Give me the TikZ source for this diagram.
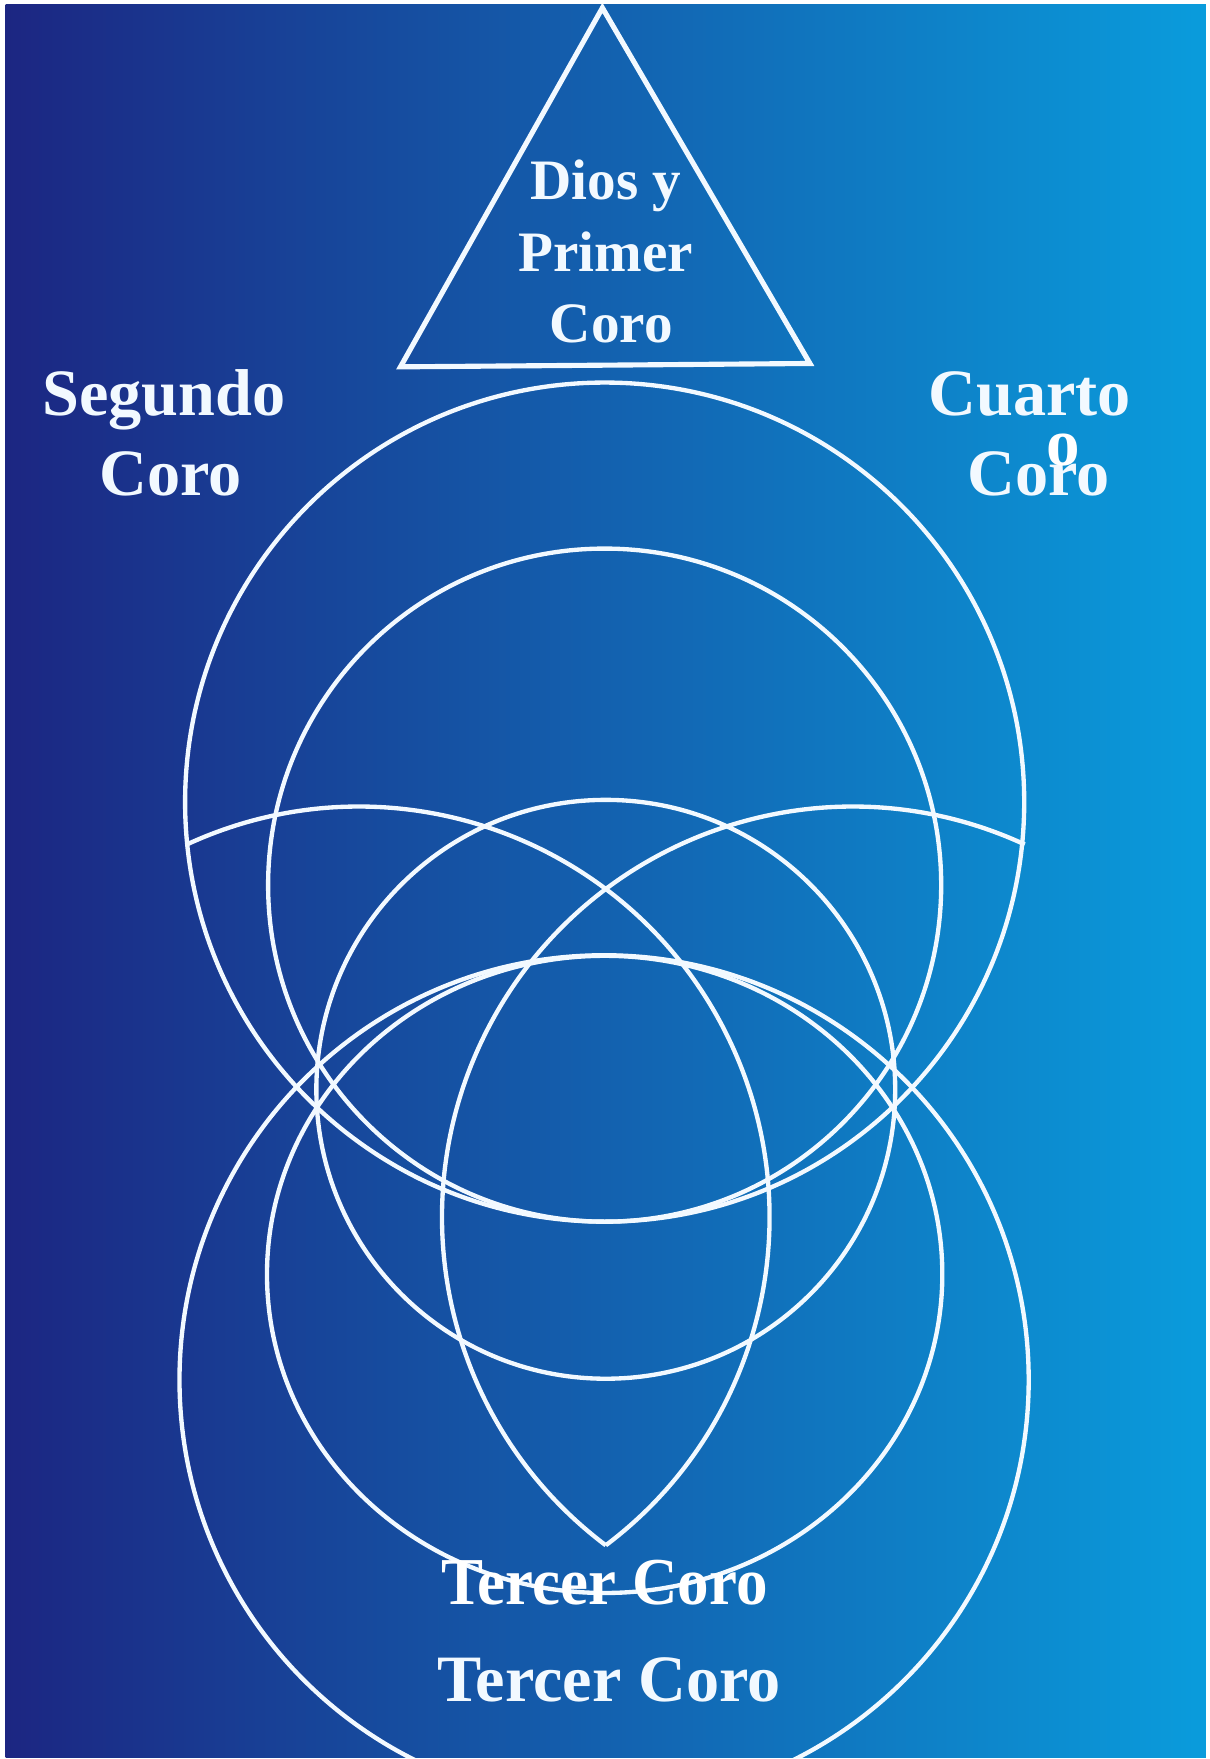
\documentclass[tikz,border=0pt]{standalone}
\usepackage{fontspec}
\setmainfont{Liberation Serif}
\definecolor{coroNavy}{HTML}{1C2682}
\definecolor{coroBlue}{HTML}{0063AF}
\definecolor{coroSky}{HTML}{0A9CDC}
\definecolor{coroInk}{HTML}{F2F9FF}
\tikzset{
    ring/.style={draw=coroInk, line width=1.1pt},
    coro/.style={text=coroInk, inner sep=0pt, anchor=base, font=\bfseries\fontsize{16.8}{20}\selectfont},
    coroS/.style={coro, font=\bfseries\fontsize{14.5}{18}\selectfont},
    stamp/.style={text=white, inner sep=0pt, anchor=base, font=\bfseries\fontsize{17}{20}\selectfont}
}

\begin{document}
\begin{tikzpicture}[x=0.1mm, y=-0.1mm]
% page and blue ground
\fill[white] (0,0) rectangle (1078,1568);
\useasboundingbox (0,0) rectangle (1078,1568);
\shade[left color=coroNavy, middle color=coroBlue, right color=coroSky] (5,4) rectangle (1075,1567);
\begin{scope}
\clip (5,4) rectangle (1075,1567);
% rings
\draw[ring] (539,715) circle[radius=374];
\draw[ring] (539,789) circle[radius=300];
\draw[ring] (540,971) circle[radius=258];
\draw[ring] (538.5,1230) circle[radius=378.5];
\draw[ring] (539,1136) ellipse[x radius=301, y radius=284];
% the two arcs of the lens
\draw[ring] (320,1085) ++(-114.8:366) arc[start angle=-114.8, end angle=53.05, radius=366];
\draw[ring] (760,1085) ++(-65.2:366) arc[start angle=-65.2, end angle=-233.05, radius=366];
% triangle
\draw[ring, line width=1.3pt] (537,7) -- (722,324) -- (357,327) -- cycle;
\end{scope}
\node[coroS] (dios) at (540,178) {Dios y};
\node[coroS] (primer) at (540,242) {Primer};
\node[coroS] (coroA) at (545,305) {Coro};
\node[coro] (segundo) at (146,370) {Segundo};
\node[coro] (coroB) at (152,442) {Coro};
\node[coro] (cuarto) at (918,370) {Cuarto};
\node[coro] (coroD) at (926,442) {Coro};
\node[coro] (tercer) at (543,1517) {Tercer Coro};
\node[stamp] (stampT) at (539,1430) {\scalebox{0.94}[1]{Tercer Coro}};
\node[stamp] (stampO) at (948,415) {o};
\end{tikzpicture}
\end{document}
